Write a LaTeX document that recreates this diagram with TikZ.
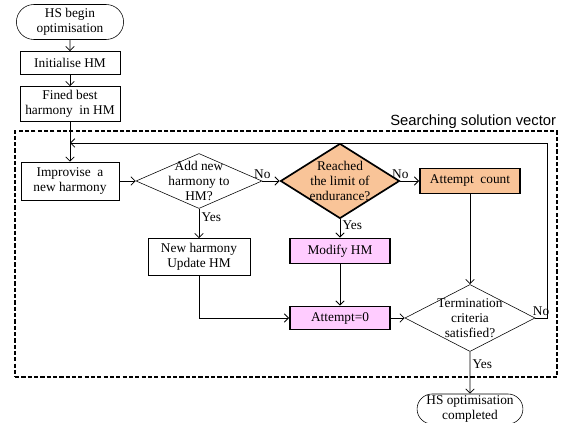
\documentclass[tikz,border=0pt]{standalone}
\usepackage{fontspec}
\setmainfont{Liberation Serif}
\setsansfont{Liberation Sans}
\usetikzlibrary{shapes.geometric,shapes.misc,arrows.meta}
\definecolor{endurance}{HTML}{F9C498}
\definecolor{modpink}{HTML}{FFCCFF}
\begin{document}
\begin{tikzpicture}[
    txt/.style={
        align=center,
        inner sep=1pt,
        font=\fontsize{9.5}{10.5}\selectfont
    },
    box/.style={
        txt,
        draw,
        minimum width=2.5cm,
        minimum height=0.6cm
    },
    term/.style={box, rounded rectangle},
    hot/.style={box, line width=1.2pt},
    dia/.style={draw, diamond, inner sep=0pt},
    lbl/.style={txt, inner sep=1.5pt},
    arrow/.style={-{Straight Barb[length=3pt,width=6pt]}, semithick}
]
\useasboundingbox (0,0) rectangle (14.05,-10.575);
%==========================
% Start
%==========================
\node[term, minimum width=2.75cm, minimum height=0.875cm] (start) at (1.75,-0.55)
{HS begin\\optimisation};
\node[box, minimum height=0.575cm] (init) at (1.75,-1.575) {Initialise HM};
\node[box, minimum height=0.875cm] (best) at (1.75,-2.6) {Fined best\\harmony\ \ in HM};

%==========================
% Searching solution vector
%==========================
\node[draw, dashed, line width=1.1pt, dash pattern=on 3pt off 1.5pt,
      minimum width=13.55cm, minimum height=6.15cm] (search) at (7.15,-6.35) {};
\node[anchor=south east, inner sep=1pt, font=\sffamily\fontsize{10.5}{12}\selectfont]
    (title) at (search.north east) {Searching solution vector};

\node[box, minimum width=2.45cm, minimum height=0.95cm] (improv) at (1.75,-4.525)
{Improvise\ \ a\\new harmony};
\node[dia, minimum width=3.15cm, minimum height=1.375cm,
      label={[txt]center:Add new\\harmony to\\HM?}] (add) at (4.975,-4.525) {};
\node[dia, fill=endurance, line width=1.2pt, minimum width=2.975cm, minimum height=1.875cm,
      label={[txt]center:Reached\\the limit of\\endurance?}] (limit) at (8.5,-4.525) {};
\node[hot, fill=endurance, minimum height=0.625cm] (count) at (11.75,-4.525) {Attempt\ \ count};

\node[box, minimum width=2.55cm, minimum height=0.925cm] (newhm) at (4.975,-6.425)
{New harmony\\Update HM};
\node[hot, fill=modpink, minimum height=0.625cm] (modify) at (8.5,-6.275) {Modify HM};
\node[hot, fill=modpink, minimum height=0.575cm] (att0) at (8.5,-7.95) {Attempt=0};
\node[dia, minimum width=3.25cm, minimum height=1.675cm,
      label={[txt]center:Termination\\criteria\\satisfied?}] (stop) at (11.75,-7.95) {};

%==========================
% End
%==========================
\node[term, minimum width=2.625cm, minimum height=0.75cm] (done) at (11.75,-10.225)
{HS optimisation\\completed};

\coordinate (loopR) at (13.675,-3.575);
\coordinate (merge) at (1.75,-3.575);

\draw[arrow] (start) -- (init);
\draw[arrow] (init) -- (best);
\draw[arrow] (best) -- (improv);
\draw[arrow] (improv) -- (add);
\draw[arrow] (add) -- node[lbl, pos=0, above] {No} (limit);
\draw[arrow] (add) -- node[lbl, pos=0.3, right] {Yes} (newhm);
\draw[arrow] (limit) -- node[lbl, pos=0, above] {No} (count);
\draw[arrow] (limit) -- node[lbl, pos=0.3, right] {Yes} (modify);
\draw[arrow] (count) -- (stop);
\draw[arrow] (modify) -- (att0);
\draw[arrow] (newhm) |- (att0);
\draw[arrow] (att0) -- (stop);
\draw[arrow] (stop) -- node[lbl, pos=0.3, right] {Yes} (done);
\draw[arrow] (stop.east) -| node[lbl, pos=0.25, above] {No} (loopR) -- (merge);

\end{tikzpicture}
\end{document}
